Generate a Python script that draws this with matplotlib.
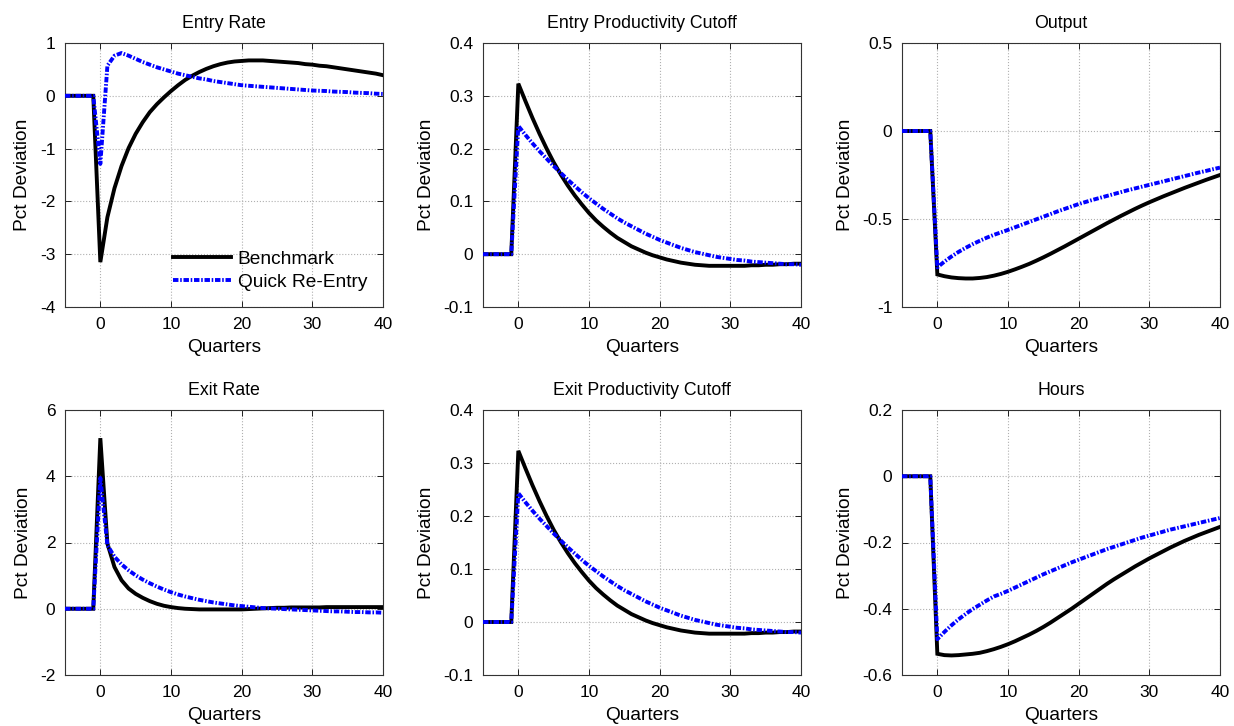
import matplotlib
matplotlib.use("Agg")
import matplotlib.pyplot as plt
import numpy as np

plt.rcParams['font.family'] = ['Liberation Sans', 'DejaVu Sans']

quarters = list(range(-5, 41))

entry_bench = [0, 0, 0, 0, 0,
    -3.15, -2.30, -1.75, -1.33, -0.99, -0.72, -0.50, -0.31, -0.16, -0.03,
    0.09, 0.20, 0.30, 0.38, 0.45, 0.51, 0.56, 0.60, 0.63, 0.65,
    0.66, 0.67, 0.67, 0.67, 0.66, 0.65, 0.64, 0.63, 0.62, 0.60,
    0.59, 0.57, 0.56, 0.54, 0.52, 0.50, 0.48, 0.46, 0.44, 0.42, 0.39]
entry_quick = [0, 0, 0, 0, 0,
    -1.29, 0.57, 0.76, 0.81, 0.76, 0.70, 0.64, 0.59, 0.54, 0.50,
    0.46, 0.42, 0.39, 0.36, 0.33, 0.31, 0.28, 0.26, 0.24, 0.22,
    0.20, 0.19, 0.18, 0.17, 0.16, 0.15, 0.14, 0.13, 0.12, 0.11,
    0.10, 0.095, 0.09, 0.08, 0.075, 0.07, 0.06, 0.055, 0.05, 0.04, 0.035]

cutoff_bench = [0, 0, 0, 0, 0,
    0.323, 0.290, 0.258, 0.228, 0.200, 0.174, 0.151, 0.130, 0.111, 0.094,
    0.078, 0.064, 0.052, 0.041, 0.031, 0.023, 0.015, 0.009, 0.003, -0.002,
    -0.006, -0.010, -0.013, -0.016, -0.018, -0.020, -0.021, -0.022, -0.022, -0.022,
    -0.022, -0.022, -0.022, -0.021, -0.021, -0.020, -0.020, -0.019, -0.019, -0.018, -0.018]
cutoff_quick = [0, 0, 0, 0, 0,
    0.243, 0.226, 0.210, 0.195, 0.181, 0.167, 0.154, 0.141, 0.129, 0.117,
    0.106, 0.096, 0.086, 0.077, 0.068, 0.060, 0.053, 0.046, 0.039, 0.033,
    0.027, 0.022, 0.017, 0.012, 0.008, 0.004, 0.001, -0.002, -0.005, -0.007,
    -0.009, -0.011, -0.012, -0.014, -0.015, -0.016, -0.017, -0.018, -0.019, -0.019, -0.020]

output_bench = [0, 0, 0, 0, 0,
    -0.815, -0.825, -0.832, -0.836, -0.838, -0.838, -0.835, -0.830, -0.822, -0.812,
    -0.800, -0.786, -0.771, -0.755, -0.737, -0.718, -0.698, -0.677, -0.656, -0.634,
    -0.612, -0.590, -0.568, -0.546, -0.524, -0.503, -0.482, -0.462, -0.442, -0.423,
    -0.405, -0.388, -0.371, -0.355, -0.339, -0.323, -0.308, -0.293, -0.278, -0.264, -0.250]
output_quick = [0, 0, 0, 0, 0,
    -0.775, -0.742, -0.713, -0.687, -0.664, -0.643, -0.624, -0.606, -0.590, -0.576,
    -0.562, -0.547, -0.532, -0.517, -0.502, -0.487, -0.472, -0.457, -0.443, -0.429,
    -0.415, -0.403, -0.391, -0.380, -0.369, -0.358, -0.347, -0.336, -0.326, -0.316,
    -0.306, -0.296, -0.286, -0.276, -0.266, -0.256, -0.246, -0.236, -0.227, -0.217, -0.208]

exit_bench = [0, 0, 0, 0, 0,
    5.15, 1.97, 1.26, 0.86, 0.61, 0.45, 0.33, 0.23, 0.15, 0.09,
    0.05, 0.02, 0.00, -0.01, -0.02, -0.02, -0.02, -0.02, -0.02, -0.02,
    -0.02, -0.01, 0.00, 0.01, 0.02, 0.03, 0.03, 0.04, 0.04, 0.04,
    0.04, 0.04, 0.05, 0.05, 0.05, 0.05, 0.05, 0.05, 0.05, 0.05, 0.05]
exit_quick = [0, 0, 0, 0, 0,
    3.95, 1.92, 1.57, 1.34, 1.16, 1.01, 0.88, 0.77, 0.67, 0.58,
    0.50, 0.43, 0.37, 0.32, 0.27, 0.23, 0.19, 0.16, 0.13, 0.10,
    0.08, 0.06, 0.04, 0.02, 0.01, 0.00, -0.01, -0.02, -0.03, -0.04,
    -0.05, -0.06, -0.07, -0.08, -0.08, -0.09, -0.10, -0.10, -0.11, -0.11, -0.12]

exitcut_bench = list(cutoff_bench)
exitcut_quick = list(cutoff_quick)

hours_bench = [0, 0, 0, 0, 0,
    -0.536, -0.540, -0.541, -0.540, -0.538, -0.536, -0.533, -0.528, -0.522, -0.515,
    -0.507, -0.498, -0.488, -0.478, -0.467, -0.455, -0.442, -0.428, -0.414, -0.400,
    -0.385, -0.370, -0.355, -0.340, -0.325, -0.311, -0.298, -0.285, -0.272, -0.260,
    -0.248, -0.237, -0.226, -0.215, -0.205, -0.195, -0.186, -0.177, -0.169, -0.161, -0.153]
hours_quick = [0, 0, 0, 0, 0,
    -0.492, -0.470, -0.450, -0.432, -0.416, -0.401, -0.388, -0.375, -0.363, -0.355,
    -0.346, -0.336, -0.326, -0.316, -0.306, -0.296, -0.287, -0.278, -0.269, -0.260,
    -0.252, -0.244, -0.236, -0.228, -0.220, -0.213, -0.206, -0.199, -0.192, -0.185,
    -0.179, -0.173, -0.167, -0.161, -0.156, -0.151, -0.146, -0.141, -0.136, -0.131, -0.126]

titles = ["Entry Rate", "Entry Productivity Cutoff", "Output",
          "Exit Rate", "Exit Productivity Cutoff", "Hours"]
bench_series = [entry_bench, cutoff_bench, output_bench,
                exit_bench, exitcut_bench, hours_bench]
quick_series = [entry_quick, cutoff_quick, output_quick,
                exit_quick, exitcut_quick, hours_quick]
ylims = [(-4, 1), (-0.1, 0.4), (-1, 0.5), (-2, 6), (-0.1, 0.4), (-0.6, 0.2)]
yticks = [[-4, -3, -2, -1, 0, 1],
          [-0.1, 0, 0.1, 0.2, 0.3, 0.4],
          [-1, -0.5, 0, 0.5],
          [-2, 0, 2, 4, 6],
          [-0.1, 0, 0.1, 0.2, 0.3, 0.4],
          [-0.6, -0.4, -0.2, 0, 0.2]]
xticks = [0, 10, 20, 30, 40]
legend_labels = ["Benchmark", "Quick Re-Entry"]

W, H = 1234, 726
fig = plt.figure(figsize=(W / 100, H / 100), dpi=100)
col_left = [65, 483, 902]
col_w = 318
row_top = [43, 410]
row_h = [264, 265]

def fmt(v):
    if abs(v - round(v)) < 1e-9:
        return "%d" % round(v)
    return ("%.1f" % v)

for i in range(6):
    r, c = divmod(i, 3)
    ax = fig.add_axes([col_left[c] / W, 1 - (row_top[r] + row_h[r]) / H,
                       col_w / W, row_h[r] / H])
    ax.plot(quarters, bench_series[i], color='black', lw=2.8, solid_joinstyle='miter',
            label=legend_labels[0], zorder=3)
    ax.plot(quarters, quick_series[i], color=(0, 0, 1), lw=2.8,
            dashes=(1.4, 0.45, 0.4, 0.45), label=legend_labels[1], zorder=4)
    ax.set_xlim(-5, 40)
    ax.set_ylim(*ylims[i])
    ax.set_xticks(xticks)
    ax.set_yticks(yticks[i])
    ax.set_yticklabels([fmt(v) for v in yticks[i]])
    ax.grid(True, color='#b0b0b0', linestyle=':', linewidth=0.8)
    ax.tick_params(direction='in', top=True, right=True, labelsize=12.5,
                   length=4, width=0.6, colors='black', pad=7)
    for s in ax.spines.values():
        s.set_linewidth(0.8)
        s.set_color('#333333')
    ax.set_title(titles[i], fontsize=12.8, pad=11)
    ax.set_xlabel("Quarters", fontsize=13.8, labelpad=5)
    ax.set_ylabel("Pct Deviation", fontsize=13.8, labelpad=6)
    if i == 0:
        ax.legend(loc='lower right', bbox_to_anchor=(0.95, 0.06), frameon=False,
                  fontsize=13.8, handlelength=3.0, handletextpad=0.36,
                  labelspacing=0.3, borderpad=0, borderaxespad=0)

fig.savefig("out.png", dpi=100)
